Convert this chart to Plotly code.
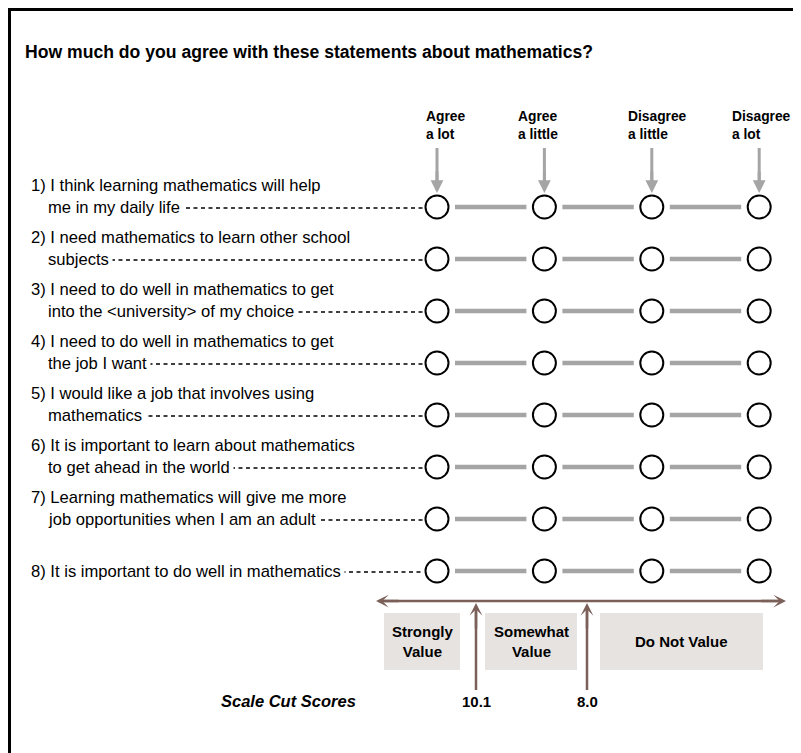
import plotly.graph_objects as go

# ---------------- data ----------------
title_text = "How much do you agree with these statements about mathematics?"
response_options = ["Agree<br>a lot", "Agree<br>a little", "Disagree<br>a little", "Disagree<br>a lot"]
statement_line1 = [
    "1) I think learning mathematics will help",
    "2) I need mathematics to learn other school",
    "3) I need to do well in mathematics to get",
    "4) I need to do well in mathematics to get",
    "5) I would like a job that involves using",
    "6) It is important to learn about mathematics",
    "7) Learning mathematics will give me more",
    "",
]
statement_line2 = [
    "me in my daily life",
    "subjects",
    "into the &lt;university&gt; of my choice",
    "the job I want",
    "mathematics",
    "to get ahead in the world",
    "job opportunities when I am an adult",
    "8) It is important to do well in mathematics",
]
category_labels = ["Strongly<br>Value", "Somewhat<br>Value", "Do Not Value"]
cut_scores = ["10.1", "8.0"]
cut_label = "Scale Cut Scores"

# ---------------- layout constants (page pixels) ----------------
PAGE_W, PAGE_H = 801, 753
BODY = 8  # default page margin around the figure
COL_X0, COL_DX = 437, 107.4
ROW_Y0, ROW_DY = 207, 52
R = 11
TXT_X, TXT_INDENT = 29, 46
HEADER_X = [424, 516, 626, 730]
FONT = "Arial, Liberation Sans, sans-serif"
GRAY = "#a5a5a5"
BROWN = "#7b5f59"
BOX = "#e6e3e1"
SCALE_Y = 601

col_x = [COL_X0 + i * COL_DX for i in range(len(response_options))]
row_y = [ROW_Y0 + r * ROW_DY for r in range(len(statement_line2))]

fig = go.Figure()
shapes = []
annotations = []


def line(x0, y0, x1, y1, color, width, dash="solid"):
    shapes.append(dict(type="line", xref="x", yref="y", x0=x0, x1=x1, y0=y0, y1=y1,
                       line=dict(color=color, width=width, dash=dash)))


def head(x, y, ax, ay, color, width, style, size):
    annotations.append(dict(x=x, y=y, ax=ax, ay=ay, xref="x", yref="y", axref="x", ayref="y",
                            text="", showarrow=True, arrowhead=style, arrowsize=size,
                            arrowwidth=width, arrowcolor=color))


# frame
line(BODY, BODY + 1.5, PAGE_W, BODY + 1.5, "black", 3)
line(9.5, BODY, 9.5, PAGE_H, "black", 3)

# title
annotations.append(dict(x=23, y=52, xref="x", yref="y", text="<b>%s</b>" % title_text,
                        showarrow=False, xanchor="left", yanchor="middle",
                        font=dict(family=FONT, size=17.6, color="black")))

# column headers and down arrows
for cx, hx, lab in zip(col_x, HEADER_X, response_options):
    annotations.append(dict(x=hx, y=125, xref="x", yref="y", text="<b>%s</b>" % lab,
                            showarrow=False, xanchor="left", yanchor="middle", align="left",
                            font=dict(family=FONT, size=13.8, color="black")))
    line(cx, 148, cx, 182, GRAY, 3)
    head(cx, 193, cx, 170, GRAY, 3, 2, 0.85)

# rows
for r, (l1, l2) in enumerate(zip(statement_line1, statement_line2)):
    y = row_y[r]
    x2 = TXT_INDENT if l1 else TXT_X
    line(x2 + 5, y + 1, col_x[0] - R - 2, y + 1, "black", 1.3, "4px,3.5px")
    if l1:
        annotations.append(dict(x=TXT_X, y=y - 22, xref="x", yref="y", text=l1,
                                showarrow=False, xanchor="left", yanchor="middle",
                                font=dict(family=FONT, size=16.6, color="black")))
    annotations.append(dict(x=x2 - 2, y=y, xref="x", yref="y", text=l2,
                            showarrow=False, xanchor="left", yanchor="middle",
                            bgcolor="white", borderpad=3,
                            font=dict(family=FONT, size=16.6, color="black")))
    for i in range(len(col_x) - 1):
        line(col_x[i] + R + 7, y, col_x[i + 1] - R - 7, y, GRAY, 4.5)

# circles
xs, ys = [], []
for y in row_y:
    for cx in col_x:
        xs.append(cx)
        ys.append(y)
fig.add_trace(go.Scatter(x=xs, y=ys, mode="markers", hoverinfo="skip",
                         marker=dict(symbol="circle", size=2 * R + 1, color="white",
                                     line=dict(color="black", width=2))))

# bottom scale: double arrow
line(380, SCALE_Y, 782, SCALE_Y, BROWN, 2.5)
head(376, SCALE_Y, 400, SCALE_Y, BROWN, 2.5, 3, 0.85)
head(786, SCALE_Y, 760, SCALE_Y, BROWN, 2.5, 3, 0.85)

# category boxes
box_x = [(384, 460), (485, 577), (600, 763)]
for (b0, b1), lab in zip(box_x, category_labels):
    shapes.append(dict(type="rect", xref="x", yref="y", x0=b0, x1=b1, y0=613, y1=670,
                       fillcolor=BOX, line=dict(width=0), layer="below"))
    annotations.append(dict(x=(b0 + b1) / 2, y=641, xref="x", yref="y", text="<b>%s</b>" % lab,
                            showarrow=False, xanchor="center", yanchor="middle",
                            font=dict(family=FONT, size=15, color="black")))

# cut score arrows and labels
cut_x = [476, 587]
for cx, lab in zip(cut_x, cut_scores):
    line(cx, 690, cx, 610, BROWN, 2.5)
    head(cx, SCALE_Y + 2, cx, 630, BROWN, 2.5, 3, 0.85)
    annotations.append(dict(x=cx, y=701, xref="x", yref="y", text="<b>%s</b>" % lab,
                            showarrow=False, xanchor="center", yanchor="middle",
                            font=dict(family=FONT, size=15, color="black")))
annotations.append(dict(x=358, y=701, xref="x", yref="y", text="<b><i>%s</i></b>" % cut_label,
                        showarrow=False, xanchor="right", yanchor="middle",
                        font=dict(family=FONT, size=16.5, color="black")))

fig.update_layout(
    width=PAGE_W - BODY, height=PAGE_H - BODY, margin=dict(l=0, r=0, t=0, b=0),
    paper_bgcolor="white", plot_bgcolor="white", showlegend=False,
    xaxis=dict(range=[BODY, PAGE_W], visible=False, fixedrange=True),
    yaxis=dict(range=[PAGE_H, BODY], visible=False, fixedrange=True),
    shapes=shapes, annotations=annotations,
)
fig.write_html("out.html")
